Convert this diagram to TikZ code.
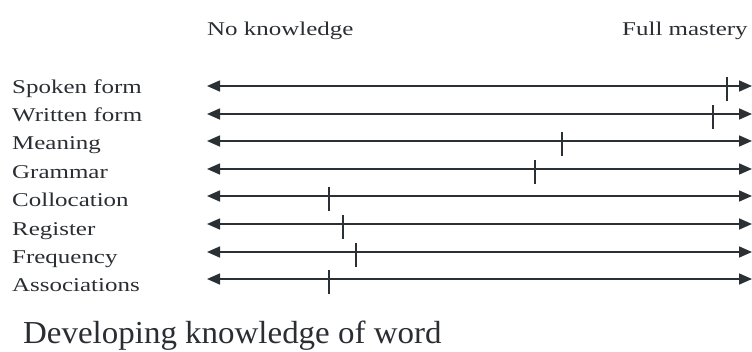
\documentclass[tikz,border=0pt]{standalone}
\usepackage{fontspec}
\usetikzlibrary{arrows.meta}
\newfontfamily\scalelabelfont[FakeStretch=1.28]{Liberation Serif}
\newfontfamily\scaletitlefont[FakeStretch=1.03]{Liberation Serif}
\definecolor{ink}{HTML}{2B3034}
\definecolor{textink}{HTML}{2A2E32}
\tikzset{
  scalelabel/.style={anchor=base west, inner sep=0pt, text=textink,
    font=\scalelabelfont\fontsize{19.5}{20}\selectfont},
  scaleline/.style={draw=ink, line width=1.6pt,
    {Triangle[length=13pt,width=11pt]}-{Triangle[length=13pt,width=11pt]}},
  marker/.style={draw=ink, line width=1.4pt},
  caption/.style={anchor=base west, inner sep=0pt, text=textink,
    font=\scaletitlefont\fontsize{32}{34}\selectfont}
}
\begin{document}
\begin{tikzpicture}[x=1pt, y=-1pt]
  \useasboundingbox (0,0) rectangle (752,351);
  % end-point headings
  \node[scalelabel] (none) at (207,35) {No knowledge};
  \node[scalelabel] (full) at (622,35) {Full mastery};
  % one row per aspect: label, line, and current level
  \foreach \name/\txt/\lev [count=\i from 0] in {
      spoken/Spoken form/727,
      written/Written form/713,
      meaning/Meaning/562,
      grammar/Grammar/535,
      colloc/Collocation/329,
      register/Register/343,
      freq/Frequency/356,
      assoc/Associations/329}{
    \pgfmathsetmacro{\ly}{round(86+27.6*\i)}
    \pgfmathsetmacro{\ty}{93+28.4*\i}
    \node[scalelabel] (\name) at (12,\ty) {\txt};
    \coordinate (\name-l) at (207,\ly);
    \coordinate (\name-r) at (752,\ly);
    \coordinate (\name-m) at (\lev,\ly);
    \draw[scaleline] (\name-l) -- (\name-r);
    \draw[marker] ([yshift=9pt]\name-m) -- ([yshift=-15pt]\name-m);
  }
  \node[caption] (title) at (23,343) {Developing knowledge of word};
\end{tikzpicture}
\end{document}
